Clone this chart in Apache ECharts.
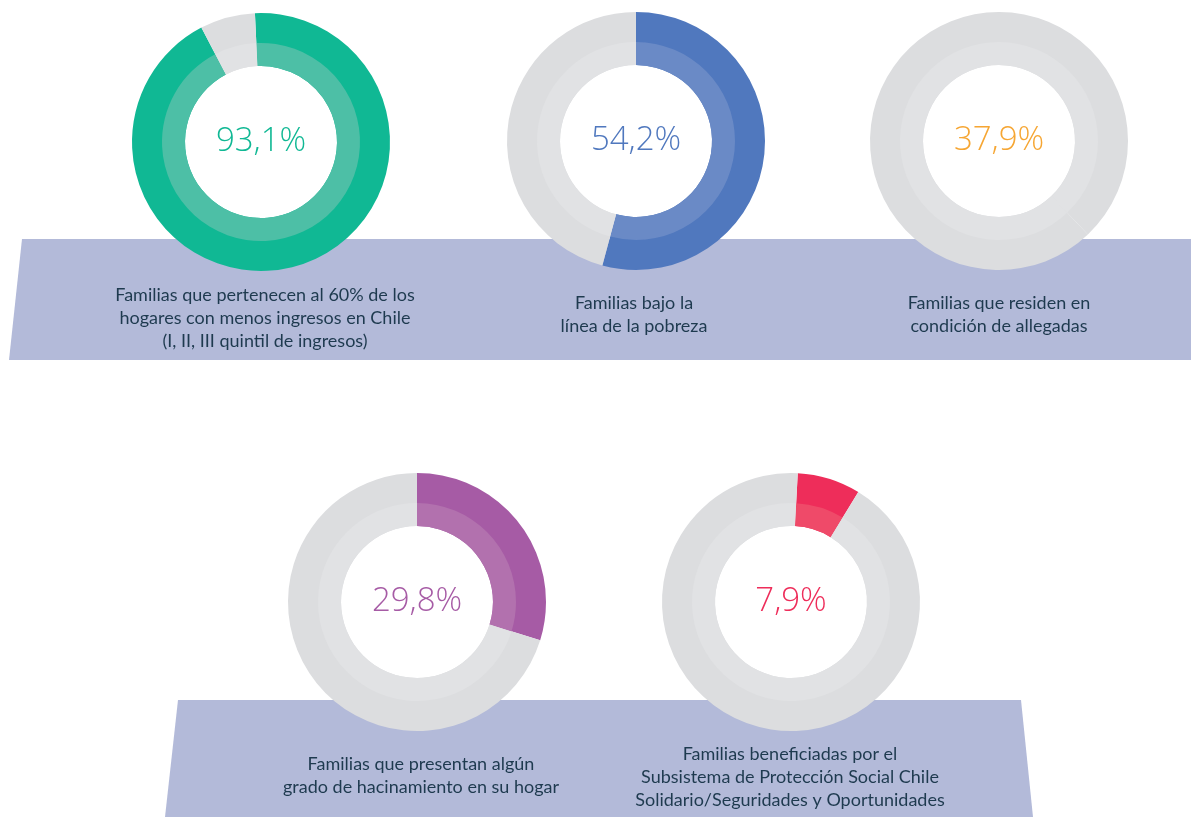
<!DOCTYPE html>
<html>
<head>
<meta charset="utf-8">
<script src="https://cdn.jsdelivr.net/npm/echarts@6/dist/echarts.min.js"></script>
<style>
  html, body { margin: 0; padding: 0; background: #fff; }
  #chart { width: 1191px; height: 817px; }
</style>
</head>
<body>
<div id="chart"></div>
<script>
// data
const values = [93.1, 54.2, 37.9, 29.8, 7.9]
const captions = [
  'Familias que pertenecen al 60% de los\nhogares con menos ingresos en Chile\n(I, II, III quintil de ingresos)',
  'Familias bajo la\nlínea de la pobreza',
  'Familias que residen en\ncondición de allegadas',
  'Familias que presentan algún\ngrado de hacinamiento en su hogar',
  'Familias beneficiadas por el\nSubsistema de Protección Social Chile\nSolidario/Seguridades y Oportunidades'
]

// layout / style
const centers = [[261, 142], [636, 141], [999, 141], [417, 602], [791, 602]]
const startAngles = [92.7, 90, 90, 90, 87]
const textColors = ['#10b894', '#5078be', '#f6a633', '#a65ba5', '#ee2d5a']
const arcColors = ['#10b894', '#5078be', '#dcdddf', '#a65ba5', '#ee2d5a']
const arcInner = ['#4dbfa6', '#6a8ac6', '#e1e2e4', '#b271ae', '#ef4a69']
const captionPos = [[265, 318], [634, 315], [999, 315], [421, 776], [790, 777]]
const gray = '#dcdddf'
const grayInner = '#e1e2e4'
const bandColor = '#b3bad9'
const textColor = '#1e3a4f'

const fmt = (v) => v.toFixed(1).replace('.', ',') + '%'

const chart = echarts.init(document.getElementById('chart'), null, { renderer: 'canvas' })

const series = []
values.forEach((v, i) => {
  const common = {
    type: 'pie',
    center: centers[i],
    startAngle: startAngles[i],
    clockwise: true,
    silent: true,
    animation: false,
    labelLine: { show: false },
    emphasis: { disabled: true },
    avoidLabelOverlap: false
  }
  series.push({
    ...common,
    radius: [76, 129],
    z: 2,
    label: { show: false },
    data: [
      {
        value: v,
        itemStyle: { color: arcColors[i] },
        label: {
          show: true,
          position: 'center',
          formatter: () => fmt(v),
          color: textColors[i],
          fontSize: 33,
          fontWeight: 300,
          fontFamily: 'Open Sans',
          padding: [8, 0, 0, 0]
        }
      },
      { value: +(100 - v).toFixed(1), itemStyle: { color: gray } }
    ]
  })
  series.push({
    ...common,
    radius: [76, 99],
    z: 3,
    label: { show: false },
    data: [
      { value: v, itemStyle: { color: arcInner[i] } },
      { value: +(100 - v).toFixed(1), itemStyle: { color: grayInner } }
    ]
  })
})

const graphic = [
  {
    type: 'polygon',
    z: -10,
    shape: { points: [[22, 239], [1191, 239], [1191, 360], [9, 360]] },
    style: { fill: bandColor }
  },
  {
    type: 'polygon',
    z: -10,
    shape: { points: [[178, 700], [1021, 700], [1033, 817], [165, 817]] },
    style: { fill: bandColor }
  }
]
captions.forEach((c, i) => {
  graphic.push({
    type: 'text',
    x: captionPos[i][0],
    y: captionPos[i][1],
    style: {
      text: c,
      fill: textColor,
      font: '18px Lato, "Liberation Sans", sans-serif',
      align: 'center',
      verticalAlign: 'middle',
      lineHeight: 23
    }
  })
})

chart.setOption({
  backgroundColor: '#ffffff',
  graphic: graphic,
  series: series
})
</script>
</body>
</html>
